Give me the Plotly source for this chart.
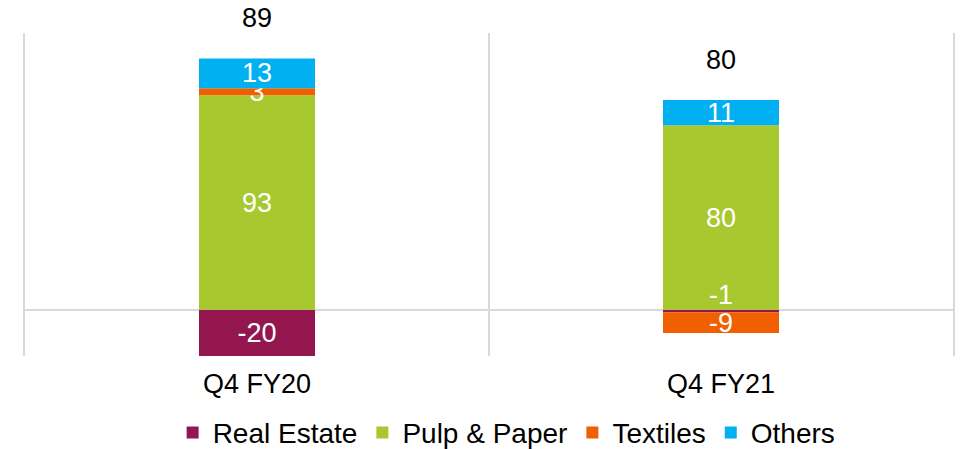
import plotly.graph_objects as go

categories = ["Q4 FY20", "Q4 FY21"]
real_estate = [-20, -1]
pulp_paper = [93, 80]
textiles = [3, -9]
others = [13, 11]
totals = [89, 80]

series_names = ["Real Estate", "Pulp & Paper", "Textiles", "Others"]
series_values = [real_estate, pulp_paper, textiles, others]
colors = ["#93174E", "#A8C82F", "#F06000", "#00B0F0"]

FONT = "Liberation Sans, Arial, sans-serif"
FS = 27

fig = go.Figure()
for name, vals, col in zip(series_names, series_values, colors):
    texts = []
    for v in vals:
        # tiny segment label drawn separately as annotation
        texts.append("" if abs(v) < 2 else str(v))
    fig.add_trace(go.Bar(
        name=name, x=categories, y=vals, marker_color=col,
        marker_line_width=0, width=0.25,
        text=texts, textposition="inside", insidetextanchor="middle", textangle=0,
        textfont=dict(color="white", size=FS, family=FONT),
        cliponaxis=False, hoverinfo="skip",
    ))

annotations = []
for i, c in enumerate(categories):
    pos_sum = sum(v[i] for v in series_values if v[i] > 0)
    annotations.append(dict(x=c, y=pos_sum, xref="x", yref="y", text=str(totals[i]),
                            showarrow=False, yanchor="bottom", yshift=23,
                            font=dict(size=FS, color="black", family=FONT)))
    for vals in series_values:
        if abs(vals[i]) < 2:
            annotations.append(dict(x=c, y=0, xref="x", yref="y", text=str(vals[i]),
                                    showarrow=False, yanchor="bottom", yshift=-2,
                                    font=dict(size=FS, color="white", family=FONT)))

fig.update_layout(
    barmode="relative",
    width=961, height=449,
    margin=dict(l=25, r=8, t=33, b=93, autoexpand=False),
    paper_bgcolor="white", plot_bgcolor="white",
    font=dict(family=FONT, size=FS, color="black"),
    showlegend=True,
    legend=dict(orientation="h", x=0.519, xanchor="center", y=0.036, yanchor="middle",
                yref="container",
                font=dict(size=28, family=FONT), traceorder="normal",
                itemwidth=30, tracegroupgap=0),
    uniformtext=dict(mode="show", minsize=FS),
    annotations=annotations,
    xaxis=dict(type="category", tickson="boundaries", showgrid=True, gridcolor="#D9D9D9",
               gridwidth=1.5, ticks="", showline=False, zeroline=False, automargin=False,
               ticklabelstandoff=9,
               tickfont=dict(size=FS, family=FONT), range=[-0.5, 1.5]),
    yaxis=dict(range=[-20, 120], showticklabels=False, showgrid=False, zeroline=True,
               zerolinecolor="#D9D9D9", zerolinewidth=1.5, showline=True, automargin=False,
               linecolor="#D9D9D9", linewidth=1.5, mirror=True, ticks=""),
)

fig.write_html("out.html", config={"displayModeBar": False},
               post_script="document.body.style.margin='0';document.body.style.overflow='hidden';")
